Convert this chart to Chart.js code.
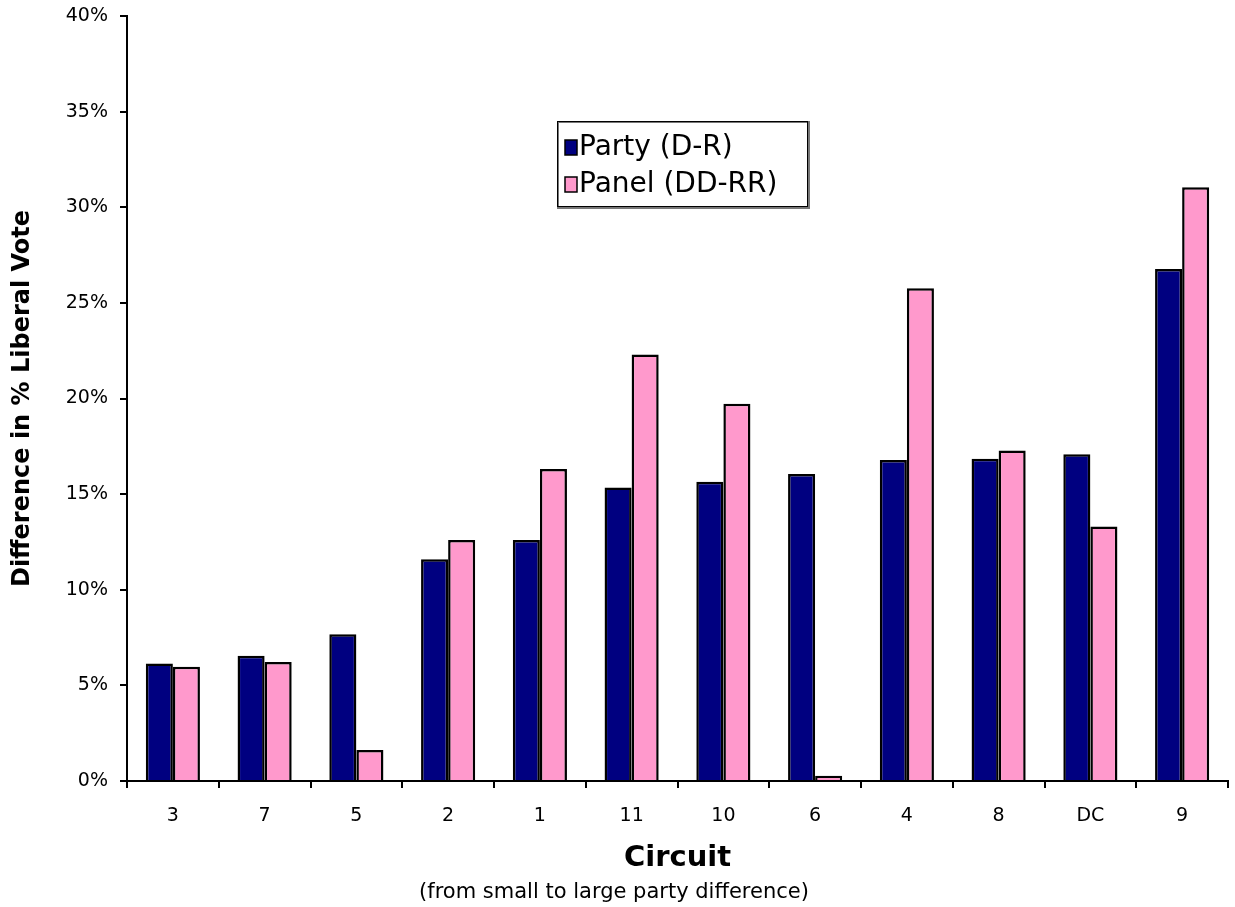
<!DOCTYPE html>
<html>
<head>
<meta charset="utf-8">
<script src="https://cdn.jsdelivr.net/npm/chart.js@4/dist/chart.umd.min.js"></script>
<style>
  html, body { margin: 0; padding: 0; background: #fff; }
  #wrap { width: 1235px; height: 907px; }
</style>
</head>
<body>
<div id="wrap"><canvas id="graph"></canvas></div>
<script>
var circuits = ["3", "7", "5", "2", "1", "11", "10", "6", "4", "8", "DC", "9"];
var partyDiff = [6.15, 6.55, 7.67, 11.6, 12.6, 15.35, 15.65, 16.05, 16.78, 16.85, 17.08, 26.77];
var panelDiff = [5.97, 6.22, 1.62, 12.6, 16.32, 22.3, 19.72, 0.27, 25.77, 17.28, 13.31, 31.05];

var FONT = "'DejaVu Sans', Verdana, sans-serif";

// legend drawn inside the plot, like the original
var boxLegend = {
    id: 'boxLegend',
    afterDraw: function(chart) {
        var ctx = chart.ctx;
        var x = 557, y = 121, w = 251, h = 86;
        ctx.save();
        ctx.fillStyle = '#fff';
        ctx.fillRect(x, y, w, h);
        ctx.strokeStyle = '#777';
        ctx.lineWidth = 2;
        ctx.strokeRect(x + 1, y + 1, w, h);
        ctx.strokeStyle = '#000';
        ctx.lineWidth = 1;
        ctx.strokeRect(x + 0.5, y + 0.5, w - 1, h - 1);
        ctx.font = '28px ' + FONT;
        ctx.textBaseline = 'middle';
        chart.data.datasets.forEach(function(ds, i) {
            var cy = y + 26 + i * 37;
            ctx.fillStyle = ds.backgroundColor;
            ctx.fillRect(x + 8, cy - 7, 12, 15);
            ctx.strokeStyle = '#000';
            ctx.lineWidth = 1.5;
            ctx.strokeRect(x + 8, cy - 7, 12, 15);
            ctx.fillStyle = '#000';
            ctx.fillText(ds.label, x + 22, cy + 1);
        });
        ctx.restore();
    }
};

var ctx1 = document.getElementById("graph").getContext('2d');

var chartData = {
    labels: circuits,
    datasets: [
        {
            label: 'Party (D-R)',
            data: partyDiff,
            backgroundColor: '#000080',
            borderColor: '#000',
            borderWidth: 2.5
        },
        {
            label: 'Panel (DD-RR)',
            data: panelDiff,
            backgroundColor: '#FF99CC',
            borderColor: '#000',
            borderWidth: 2.5
        }
    ]
};

var myChart = new Chart(ctx1, {
    type: 'bar',
    data: chartData,
    plugins: [boxLegend],
    options: {
        responsive: true,
        maintainAspectRatio: false,
        animation: false,
        layout: { padding: { left: 0, right: 7, top: 16, bottom: 0 } },
        datasets: { bar: { barPercentage: 1, categoryPercentage: 0.59 } },
        plugins: {
            legend: { display: false },
            tooltip: { enabled: false },
            title: {
                display: true,
                position: 'bottom',
                text: '(from small to large party difference)',
                color: '#000',
                font: { family: FONT, size: 21, weight: 'normal' },
                padding: { top: 4, bottom: 2 }
            }
        },
        scales: {
            x: {
                afterFit: function(s) { s.height = 94.8; },
                grid: { display: true, drawOnChartArea: false, drawTicks: true, tickLength: 7, color: '#000', lineWidth: 2, offset: true },
                border: { display: true, color: '#000', width: 2 },
                ticks: { color: '#000', font: { family: FONT, size: 19 }, padding: 17 },
                title: {
                    display: true,
                    text: 'Circuit',
                    color: '#000',
                    font: { family: FONT, size: 29, weight: 'bold' },
                    padding: { top: 4, bottom: 0 }
                }
            },
            y: {
                min: 0,
                max: 40,
                afterFit: function(s) {
                    s.width = 127;
                    s.paddingTop = 0;
                    s.paddingBottom = 0;
                },
                grid: { display: true, drawOnChartArea: false, drawTicks: true, tickLength: 7, color: '#000', lineWidth: 2 },
                border: { display: true, color: '#000', width: 2 },
                ticks: {
                    stepSize: 5,
                    color: '#000',
                    padding: 12,
                    font: { family: FONT, size: 19 },
                    callback: function(v) { return v + '%'; }
                },
                title: {
                    display: true,
                    text: 'Difference in % Liberal Vote',
                    color: '#000',
                    font: { family: FONT, size: 24, weight: 'bold' },
                    padding: { top: 8, bottom: 4 }
                }
            }
        }
    }
});
</script>
</body>
</html>
